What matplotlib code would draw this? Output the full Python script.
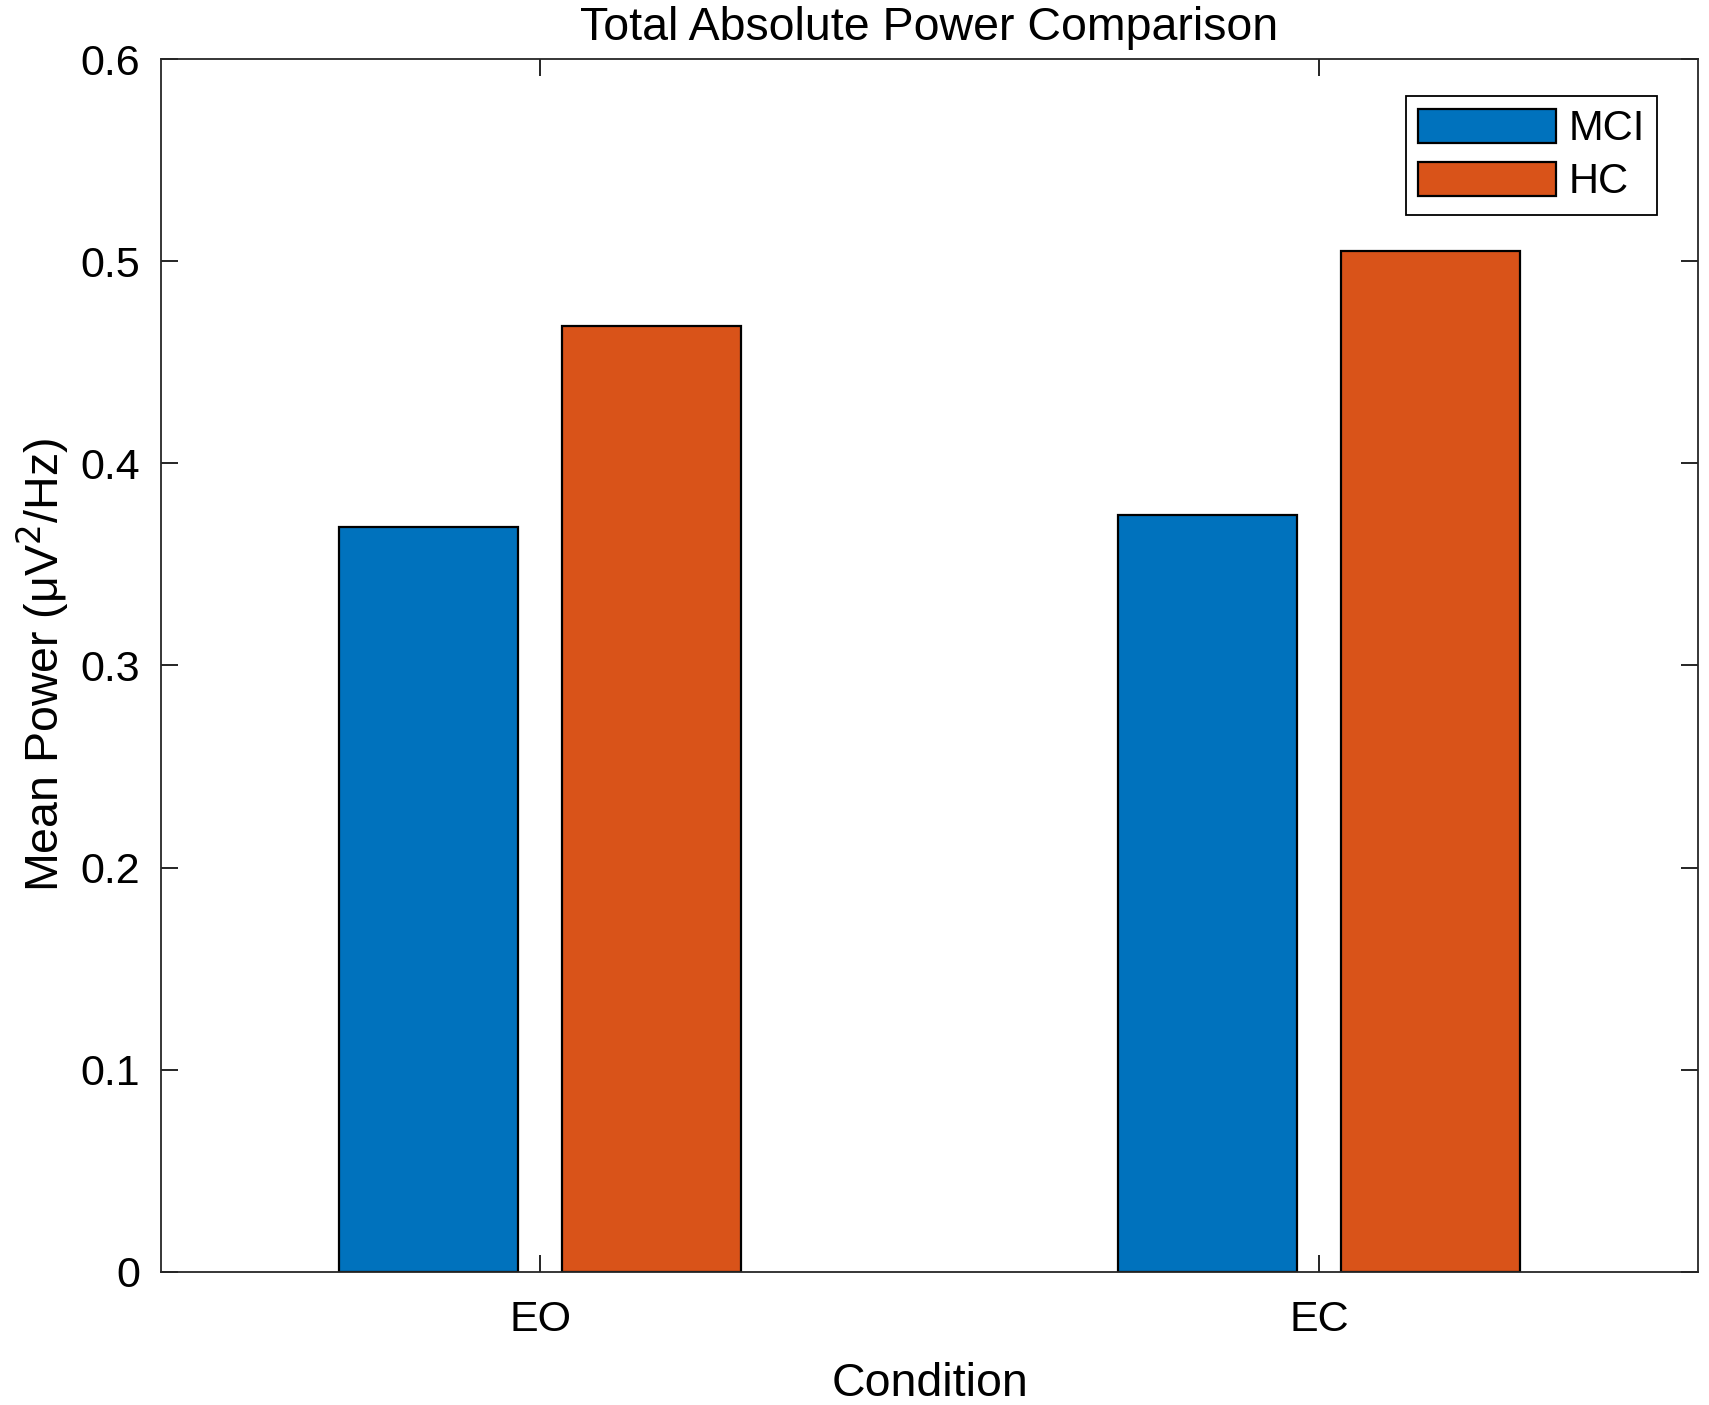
import numpy as np
import matplotlib
matplotlib.use('Agg')
import matplotlib.pyplot as plt

# Values
conditions = ['EO', 'EC']
groups = ['MCI', 'HC']
mci_power = [0.3685, 0.3745]
hc_power = [0.468, 0.505]
colors = ['#0072BD', '#D95319']

plt.rcParams['font.family'] = ['Liberation Sans', 'DejaVu Sans']

fig = plt.figure(figsize=(17.09, 14.05), dpi=100)
ax = fig.add_axes([0.0942, 0.0947, 0.8994, 0.8633])

x = np.arange(1, len(conditions) + 1)
width = 0.23
offset = 0.1435
ax.bar(x - offset, mci_power, width, color=colors[0], edgecolor='black', linewidth=1.6, label=groups[0])
ax.bar(x + offset, hc_power, width, color=colors[1], edgecolor='black', linewidth=1.6, label=groups[1])

ax.set_xlim(0.513, 2.487)
ax.set_ylim(0, 0.6)
ax.set_xticks(x)
ax.set_xticklabels(conditions)
ax.set_yticks(np.arange(0, 0.61, 0.1))
ax.set_yticklabels(['0', '0.1', '0.2', '0.3', '0.4', '0.5', '0.6'])

ax.tick_params(direction='in', length=12, width=1.2, labelsize=31, top=True, right=True)
ax.tick_params(axis='x', pad=20)
ax.tick_params(axis='y', pad=15)
for s in ax.spines.values():
    s.set_linewidth(1.3)
    s.set_color('#262626')

ax.set_title('Total Absolute Power Comparison', fontsize=33.5, pad=14)
ax.set_xlabel('Condition', fontsize=33.5, labelpad=16)
ax.set_ylabel('Mean Power (μV$^2$/Hz)', fontsize=33.5, labelpad=7)

leg = ax.legend(loc='upper right', bbox_to_anchor=(0.9733, 0.9695), borderaxespad=0,
                fontsize=30, handlelength=3.3, handleheight=0.9, labelspacing=0.3,
                handletextpad=0.3, borderpad=0.3, fancybox=False, edgecolor='black', framealpha=1)
leg.get_frame().set_linewidth(1.3)

fig.savefig('out.png', dpi=100)
